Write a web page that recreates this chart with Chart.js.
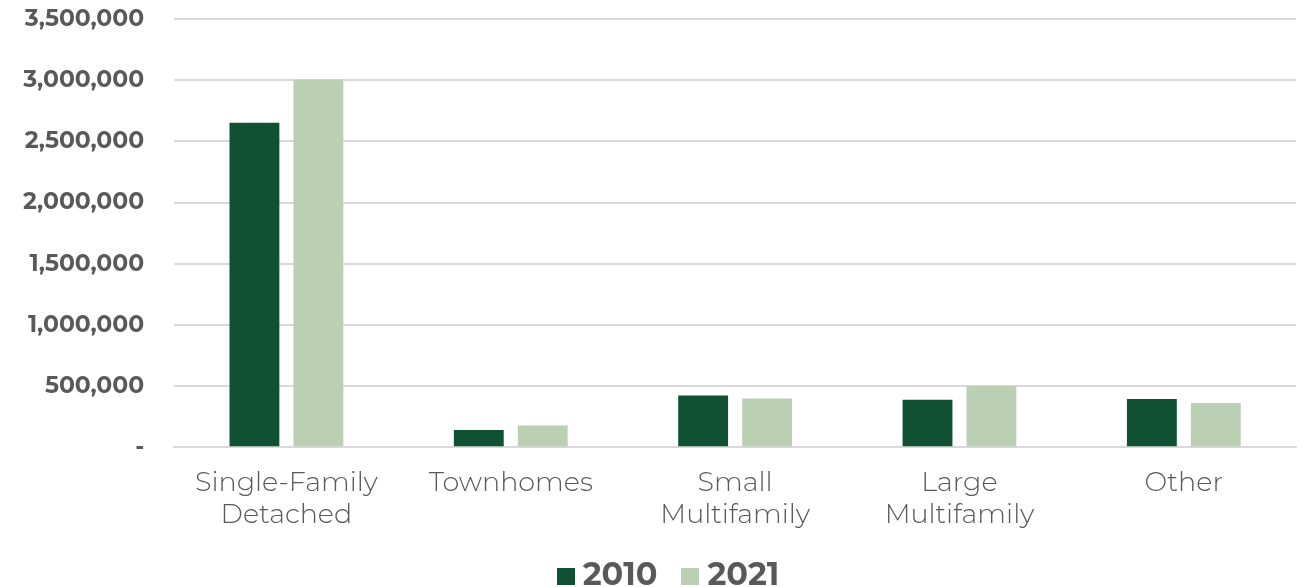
<!DOCTYPE html>
<html>
<head>
<meta charset="utf-8">
<script src="https://cdn.jsdelivr.net/npm/chart.js@4"></script>
<style>
  html, body { margin: 0; padding: 0; background: #fff; }
  #wrap { width: 1306px; height: 587px; }
</style>
</head>
<body>
<div id="wrap"><canvas id="chart" width="1306" height="587"></canvas></div>
<script>
// data
const categories = [['Single-Family', 'Detached'], 'Townhomes', ['Small', 'Multifamily'], ['Large', 'Multifamily'], 'Other'];
const values2010 = [2653000, 141000, 424000, 389000, 394000];
const values2021 = [3005000, 178000, 399000, 501000, 362000];
const yTicks = [0, 500000, 1000000, 1500000, 2000000, 2500000, 3000000, 3500000];

const colors = ['#0f5132', '#bbcfb3'];
const textGray = '#595959';
const fontFamily = 'Montserrat, "Open Sans", "Noto Sans", sans-serif';

// small square swatches for the legend (sits closer to the text than the default box)
const swatches = colors.map(c => {
    const cv = document.createElement('canvas');
    cv.width = 18;
    cv.height = 17;
    const ctx = cv.getContext('2d');
    ctx.fillStyle = c;
    ctx.fillRect(0, 0, 18, 17);
    return cv;
});

new Chart(document.getElementById('chart'), {
    type: 'bar',
    data: {
        labels: categories,
        datasets: [
            { label: '2010', data: values2010, backgroundColor: colors[0], barPercentage: 0.78, categoryPercentage: 0.57 },
            { label: '2021', data: values2021, backgroundColor: colors[1], barPercentage: 0.78, categoryPercentage: 0.57 }
        ]
    },
    options: {
        responsive: false,
        animation: false,
        layout: { padding: { top: 0, right: -38, left: 0, bottom: -15 } },
        plugins: {
            legend: {
                position: 'bottom',
                labels: {
                    color: textGray,
                    usePointStyle: true,
                    pointStyleWidth: 2,
                    padding: 32,
                    font: { family: fontFamily, size: 32, weight: 'bold' },
                    generateLabels: chart => Chart.defaults.plugins.legend.labels.generateLabels(chart)
                        .map((item, i) => Object.assign(item, { pointStyle: swatches[i] }))
                }
            },
            tooltip: { enabled: false }
        },
        scales: {
            x: {
                grid: { display: false },
                border: { color: '#d9d9d9', width: 2 },
                ticks: {
                    color: textGray,
                    padding: 12,
                    maxRotation: 0,
                    font: { family: fontFamily, size: 27, weight: '300', lineHeight: 1.18 }
                },
                afterFit: axis => {
                    axis.height -= 15;
                    axis.paddingRight = 10;
                }
            },
            y: {
                min: 0,
                max: 3500000,
                afterBuildTicks: axis => { axis.ticks = yTicks.map(v => ({ value: v })); },
                grid: { color: '#d9d9d9', lineWidth: 2, drawTicks: false },
                border: { display: false },
                ticks: {
                    color: textGray,
                    padding: 30,
                    font: { family: fontFamily, size: 23.5, weight: 'bold' },
                    callback: v => v === 0 ? '-' : v.toLocaleString('en-US')
                },
                afterFit: axis => {
                    axis.width -= 7;
                    axis.paddingTop = 19;
                    axis.paddingBottom = 0;
                }
            }
        }
    }
});
</script>
</body>
</html>
